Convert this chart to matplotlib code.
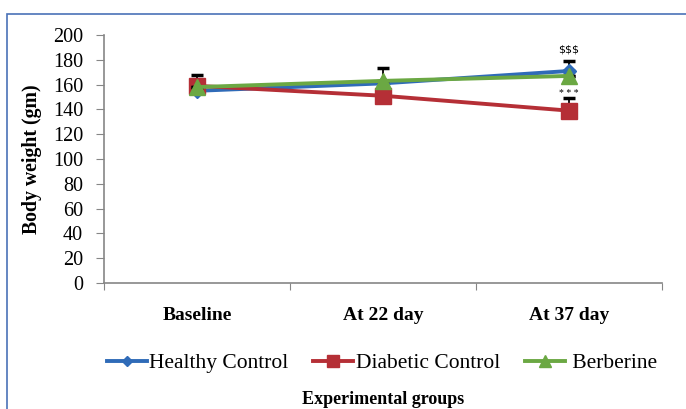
import matplotlib.pyplot as plt
from matplotlib.patches import Rectangle

# data
categories = ["Baseline", "At 22 day", "At 37 day"]
healthy = [155, 161, 171]
healthy_err = [0, 0, 8]
diabetic = [159, 151, 139]
diabetic_err = [9, 0, 10]
berberine = [158, 163, 167]
berberine_err = [0, 10, 0]
yticks = list(range(0, 201, 20))

plt.rcParams["font.family"] = ["Liberation Serif", "DejaVu Serif"]

W, H = 686, 409
fig = plt.figure(figsize=(W / 100, H / 100), dpi=100)
fig.patch.set_facecolor("white")

# blue outer frame (clipped at right and bottom like the source)
fig.patches.append(Rectangle((7 / W, -0.1), 1.2, 1 - 14 / H + 0.1,
                             transform=fig.transFigure, fill=False,
                             edgecolor="#4A72B8", linewidth=1.2))

ax = fig.add_axes([104 / W, 1 - 283 / H, (662 - 104) / W, (283 - 35) / H])
x = [0.5, 1.5, 2.5]

ax.errorbar(x, healthy, yerr=[[0] * 3, healthy_err], color="#2F6BB8", lw=2.8,
            marker="D", ms=7, ecolor="black", elinewidth=1.3, capsize=4,
            capthick=2.5, label="Healthy Control", zorder=3)
ax.errorbar(x, diabetic, yerr=[[0] * 3, diabetic_err], color="#B52F36", lw=2.8,
            marker="s", ms=12, ecolor="black", elinewidth=1.3, capsize=4,
            capthick=2.5, label="Diabetic Control", zorder=4)
ax.errorbar(x, berberine, yerr=[[0] * 3, berberine_err], color="#6BA843", lw=2.8,
            marker="^", ms=11, ecolor="black", elinewidth=1.3, capsize=4,
            capthick=2.5, label=" Berberine", zorder=5)

ax.text(x[2], 184, "$$$", ha="center", va="bottom", fontsize=8,
        family="DejaVu Sans Condensed")
ax.text(x[2], 149, "* * *", ha="center", va="bottom", fontsize=7)

ax.set_xlim(0, 3)
ax.set_ylim(0, 200)
ax.set_yticks(yticks)
ax.set_yticklabels([str(v) for v in yticks], fontsize=14.5)
ax.set_xticks([0, 1, 2, 3])
ax.set_xticklabels([])
ax.set_xticks(x, minor=True)
ax.set_xticklabels(categories, minor=True, fontsize=14, fontweight="bold")
ax.tick_params(axis="x", which="minor", length=0, pad=17)
ax.tick_params(axis="x", which="major", length=5, color="#868686", direction="out")
ax.tick_params(axis="y", length=6, color="#868686", direction="out", pad=9)

for side in ["top", "right"]:
    ax.spines[side].set_visible(False)
for side in ["left", "bottom"]:
    ax.spines[side].set_color("#868686")
    ax.spines[side].set_linewidth(1.2)

ax.set_ylabel("Body weight (gm)", fontsize=14.2, fontweight="bold")
ax.yaxis.set_label_coords((42 - 104) / (662 - 104), 0.5)
fig.text(383 / W, 1 - 400 / H, "Experimental groups", ha="center", va="center",
         fontsize=13, fontweight="bold")

handles, labels = ax.get_legend_handles_labels()
handles = [h[0] for h in handles]
fig.legend(handles, labels, loc="center", bbox_to_anchor=(382 / W, 1 - 363 / H), ncol=3,
           frameon=False, fontsize=15.5, handlelength=1.86, handletextpad=0.1,
           columnspacing=1.15, markerscale=0.75)

fig.savefig("out.png", dpi=100, facecolor="white")
